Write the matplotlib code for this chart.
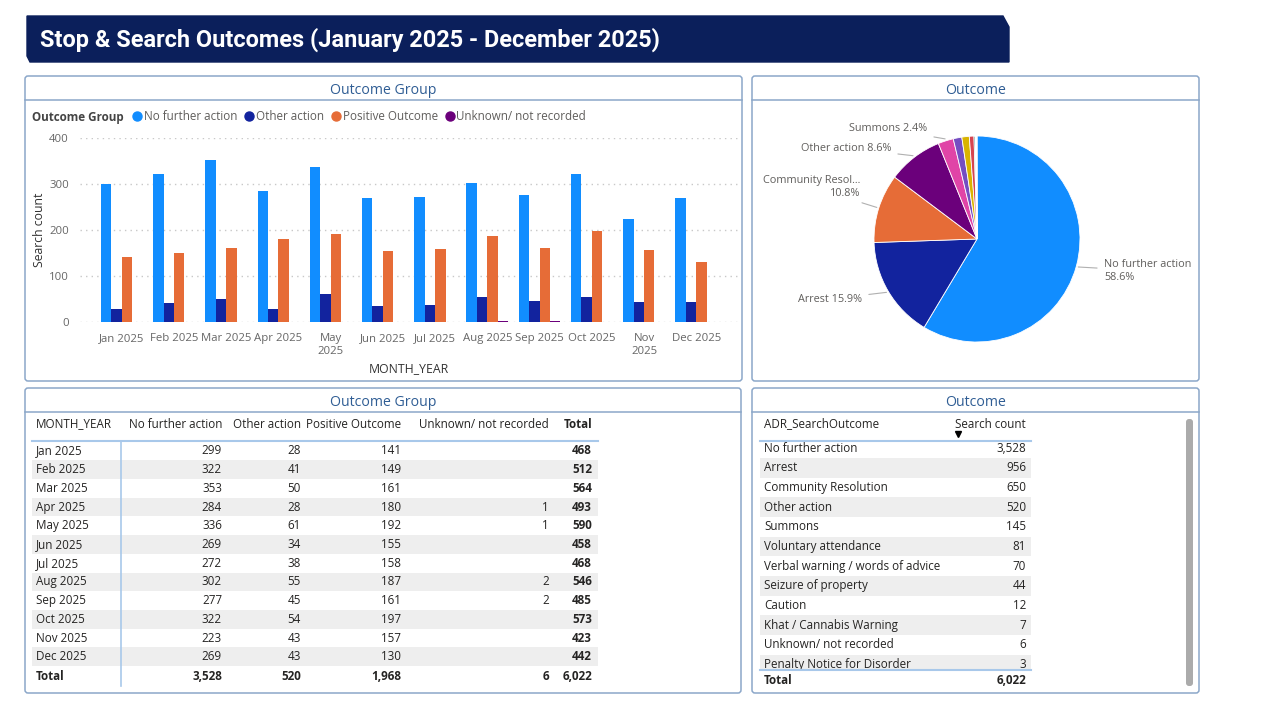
import matplotlib.pyplot as plt
import numpy as np
from matplotlib.patches import FancyBboxPatch, Polygon, Rectangle
from matplotlib.lines import Line2D

# data
months = ["Jan 2025", "Feb 2025", "Mar 2025", "Apr 2025", "May 2025", "Jun 2025",
          "Jul 2025", "Aug 2025", "Sep 2025", "Oct 2025", "Nov 2025", "Dec 2025"]
month_ticks = ["Jan 2025", "Feb 2025", "Mar 2025", "Apr 2025", "May\n2025", "Jun 2025",
               "Jul 2025", "Aug 2025", "Sep 2025", "Oct 2025", "Nov\n2025", "Dec 2025"]
no_further = [299, 322, 353, 284, 336, 269, 272, 302, 277, 322, 223, 269]
other_action = [28, 41, 50, 28, 61, 34, 38, 55, 45, 54, 43, 43]
positive = [141, 149, 161, 180, 192, 155, 158, 187, 161, 197, 157, 130]
unknown = [0, 0, 0, 1, 1, 0, 0, 2, 2, 0, 0, 0]
group_names = ["No further action", "Other action", "Positive Outcome", "Unknown/ not recorded"]

outcomes = ["No further action", "Arrest", "Community Resolution", "Other action", "Summons",
            "Voluntary attendance", "Verbal warning / words of advice", "Seizure of property",
            "Caution", "Khat / Cannabis Warning", "Unknown/ not recorded",
            "Penalty Notice for Disorder"]
outcome_counts = [3528, 956, 650, 520, 145, 81, 70, 44, 12, 7, 6, 3]
# pie labels shown (short names as displayed)
pie_label_names = ["No further action", "Arrest", "Community Resol...", "Other action", "Summons"]

colors = ["#118DFF", "#12239E", "#E66C37", "#6B007B", "#E044A7", "#744EC2",
          "#D9B300", "#D64550", "#197278", "#1AAB40", "#15C6F4", "#4092FF"]

plt.rcParams['font.family'] = ['Open Sans', 'DejaVu Sans']

W, H = 1280, 720
fig = plt.figure(figsize=(12.8, 7.2), dpi=100)


def rect(x0, y0, x1, y1):
    return [x0 / W, 1 - y1 / H, (x1 - x0) / W, (y1 - y0) / H]


bg = fig.add_axes([0, 0, 1, 1])
bg.set_xlim(0, W)
bg.set_ylim(H, 0)
bg.axis('off')

# title banner
bg.add_patch(Polygon([(27, 16), (1003, 16), (1009, 27), (1009, 62), (30, 62), (27, 56)],
                     closed=True, color="#0B1F5B"))
bg.text(40, 40, "Stop & Search Outcomes (January 2025 - December 2025)", color="white",
        fontsize=16.9, fontweight='bold', family=['Roboto', 'DejaVu Sans'], va='center')

border = "#8BA7C9"
txt = "#252423"
grey = "#605E5C"


def panel(x0, y0, x1, y1, title):
    bg.add_patch(FancyBboxPatch((x0, y0), x1 - x0, y1 - y0,
                                boxstyle="round,pad=0,rounding_size=3",
                                fc="white", ec=border, lw=1.1))
    bg.plot([x0, x1], [y0 + 24, y0 + 24], color=border, lw=1.1)
    bg.text((x0 + x1) / 2, y0 + 14, title, color="#2F5D94", fontsize=10.2,
            ha='center', va='center')


panel(25, 76, 742, 381, "Outcome Group")
panel(752, 76, 1199, 381, "Outcome")
panel(25, 388, 741, 693, "Outcome Group")
panel(752, 388, 1199, 693, "Outcome")

# bar chart
ax = fig.add_axes(rect(80, 138, 738, 322))
ax.set_facecolor('none')
x = np.arange(len(months))
w = 0.2
series = [no_further, other_action, positive, unknown]
for i, s in enumerate(series):
    ax.bar(x + (i - 1.5) * w, s, width=w, color=colors[i], zorder=3)
ax.set_xlim(-0.8, 11.8)
ax.set_ylim(0, 400)
ax.set_yticks([0, 100, 200, 300, 400])
ax.grid(axis='y', linestyle=(0, (1, 3)), color="#C8C8C8", lw=1)
for sp in ax.spines.values():
    sp.set_visible(False)
ax.tick_params(length=0, labelsize=8.2, labelcolor="#666666", pad=8)
ax.set_xticks(x)
ax.set_xticklabels(month_ticks)
ax.set_ylabel("Search count", fontsize=8.8, color="#333333", labelpad=2)
ax.set_xlabel("MONTH_YEAR", fontsize=8.8, color="#333333", labelpad=4)

# legend
bg.text(32, 117, "Outcome Group", fontsize=8.4, fontweight='bold', color="#444444",
        va='center')
handles = [Line2D([], [], marker='o', ls='', color=c, markersize=6.5) for c in colors[:4]]
fig.legend(handles, group_names, loc='center left', bbox_to_anchor=(130 / W, 1 - 117 / H),
           ncol=4, frameon=False, handletextpad=0.0, columnspacing=0.4, handlelength=1.2,
           fontsize=8.4, borderaxespad=0, borderpad=0, labelcolor=grey)

# pie chart
R, cx, cy = 103, 977, 239
axp = fig.add_axes(rect(753, 101, 1198, 380))
axp.pie(outcome_counts, colors=colors, startangle=90, counterclock=False, radius=1,
        wedgeprops=dict(linewidth=0.6, edgecolor='white'))
axp.set_xlim((753 - cx) / R, (1198 - cx) / R)
axp.set_ylim((cy - 380) / R, (cy - 101) / R)
axp.set_aspect('auto')
axp.axis('off')

total = sum(outcome_counts)
fr = np.array(outcome_counts) / total
cum = np.concatenate([[0], np.cumsum(fr)])
label_pos = [(1.233, -0.31, 'left'), (-1.117, -0.583, 'right'), (-1.136, 0.505, 'right'),
             (-0.835, 0.883, 'right'), (-0.485, 1.068, 'right')]
for i, name in enumerate(pie_label_names):
    ang = np.deg2rad(90 - 360 * (cum[i] + cum[i + 1]) / 2)
    pct = f"{fr[i] * 100:.1f}%"
    lab = f"{name}\n{pct}" if i in (0, 2) else f"{name} {pct}"
    tx, ty, ha = label_pos[i]
    axp.annotate(lab, xy=(np.cos(ang) * 1.02, np.sin(ang) * 1.02), xytext=(tx, ty),
                 ha=ha, va='center', fontsize=7.8, color=grey,
                 arrowprops=dict(arrowstyle='-', color="#B0B0B0", lw=0.8,
                                 shrinkA=3, shrinkB=0))

# table 1
lb = "#A8C8EA"
rows_y = 451 + 18.7 * np.arange(len(months))
col_r = [222, 301, 401, 549, 592]
for i, y in enumerate(rows_y):
    if i % 2 == 1:
        bg.add_patch(Rectangle((32, y - 9.35), 566, 18.7, color="#EEEEEE", lw=0))
fs = 8.4
bg.text(36, 424, "MONTH_YEAR", fontsize=fs, color=txt, va='center')
for c, name in zip(col_r, group_names + ["Total"]):
    bg.text(c, 424, name, fontsize=fs, color=txt, va='center', ha='right',
            fontweight='bold' if name == "Total" else 'normal')
bg.plot([32, 598], [441, 441], color=lb, lw=1.5)
bg.plot([121, 121], [441, 686], color=lb, lw=1.2)
for i, m in enumerate(months):
    y = rows_y[i]
    bg.text(36, y, m, fontsize=fs, color=txt, va='center')
    vals = [s[i] for s in series]
    for c, v in zip(col_r[:4], vals):
        if v:
            bg.text(c, y, f"{v:,}", fontsize=fs, color=txt, va='center', ha='right')
    bg.text(col_r[4], y, f"{sum(vals):,}", fontsize=fs, color=txt, va='center', ha='right',
            fontweight='bold')
bg.text(36, 676, "Total", fontsize=fs, color=txt, va='center', fontweight='bold')
tot = [sum(s) for s in series]
for c, v in zip(col_r, tot + [sum(tot)]):
    bg.text(c, 676, f"{v:,}", fontsize=fs, color=txt, va='center', ha='right', fontweight='bold')

# table 2
rows2 = 448 + 19.7 * np.arange(len(outcomes))
for i, y in enumerate(rows2):
    if i % 2 == 1:
        bg.add_patch(Rectangle((760, y - 9.85), 271, 19.7, color="#EEEEEE", lw=0))
bg.text(764, 424, "ADR_SearchOutcome", fontsize=fs, color=txt, va='center')
bg.text(1026, 424, "Search count", fontsize=fs, color=txt, va='center', ha='right')
bg.plot([958], [434], marker='v', color='black', markersize=4)
bg.plot([760, 1031], [441, 441], color=lb, lw=1.5)
for i, (name, v) in enumerate(zip(outcomes, outcome_counts)):
    bg.text(764, rows2[i], name, fontsize=fs, color=txt, va='center')
    bg.text(1026, rows2[i], f"{v:,}", fontsize=fs, color=txt, va='center', ha='right')
bg.add_patch(Rectangle((758, 670.5), 276, 20, color="white", lw=0, zorder=5))
bg.plot([760, 1031], [670, 670], color=lb, lw=1.5, zorder=6)
bg.text(764, 681, "Total", fontsize=fs, color=txt, va='center', fontweight='bold', zorder=6)
bg.text(1026, 681, f"{total:,}", fontsize=fs, color=txt, va='center', ha='right',
        fontweight='bold', zorder=6)
bg.add_patch(FancyBboxPatch((1186, 419), 7, 267, boxstyle="round,pad=0,rounding_size=3",
                            fc="#ABABAB", ec='none'))

fig.savefig("out.png", dpi=100)
